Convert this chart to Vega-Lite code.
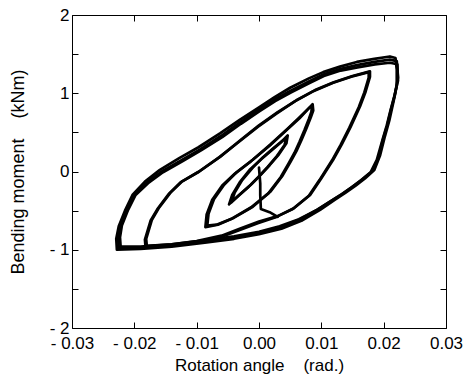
{
  "$schema": "https://vega.github.io/schema/vega-lite/v6.json",
  "width": 374,
  "height": 313,
  "autosize": {"type": "none"},
  "padding": {"left": 72, "top": 15, "right": 23, "bottom": 59},
  "background": "white",
  "config": {
    "view": {"stroke": "black", "strokeWidth": 1},
    "font": "Liberation Sans",
    "axis": {
      "grid": false,
      "domain": false,
      "tickColor": "black",
      "tickSize": -6,
      "tickWidth": 1,
      "labelColor": "black",
      "labelFont": "Liberation Sans",
      "labelFontSize": 17,
      "labelOverlap": false,
      "labelFlush": false,
      "labelBound": false,
      "titleColor": "black",
      "titleFont": "Liberation Sans",
      "titleFontWeight": "normal"
    }
  },
  "data": {"values": [
    {"s":"D1","i":0,"x":-0.0225,"y":-0.98},{"s":"D1","i":1,"x":-0.0226,"y":-0.85},{"s":"D1","i":2,"x":-0.0222,"y":-0.70},{"s":"D1","i":3,"x":-0.0212,"y":-0.50},{"s":"D1","i":4,"x":-0.0200,"y":-0.30},{"s":"D1","i":5,"x":-0.0180,"y":-0.14},{"s":"D1","i":6,"x":-0.0156,"y":0.00},{"s":"D1","i":7,"x":-0.0125,"y":0.14},{"s":"D1","i":8,"x":-0.0095,"y":0.28},{"s":"D1","i":9,"x":-0.0060,"y":0.46},{"s":"D1","i":10,"x":-0.0030,"y":0.63},{"s":"D1","i":11,"x":0.0000,"y":0.79},{"s":"D1","i":12,"x":0.0025,"y":0.92},{"s":"D1","i":13,"x":0.0050,"y":1.03},{"s":"D1","i":14,"x":0.0080,"y":1.15},{"s":"D1","i":15,"x":0.0103,"y":1.24},{"s":"D1","i":16,"x":0.0130,"y":1.31},{"s":"D1","i":17,"x":0.0157,"y":1.36},{"s":"D1","i":18,"x":0.0185,"y":1.40},{"s":"D1","i":19,"x":0.0210,"y":1.43},{"s":"D1","i":20,"x":0.0221,"y":1.41},
    {"s":"D1","i":21,"x":0.0223,"y":1.20},{"s":"D1","i":22,"x":0.0218,"y":0.98},{"s":"D1","i":23,"x":0.0212,"y":0.80},{"s":"D1","i":24,"x":0.0206,"y":0.60},{"s":"D1","i":25,"x":0.0199,"y":0.41},{"s":"D1","i":26,"x":0.0191,"y":0.16},{"s":"D1","i":27,"x":0.0181,"y":0.00},{"s":"D1","i":28,"x":0.0166,"y":-0.10},{"s":"D1","i":29,"x":0.0151,"y":-0.19},{"s":"D1","i":30,"x":0.0135,"y":-0.28},{"s":"D1","i":31,"x":0.0119,"y":-0.36},{"s":"D1","i":32,"x":0.0095,"y":-0.48},{"s":"D1","i":33,"x":0.0066,"y":-0.61},{"s":"D1","i":34,"x":0.0035,"y":-0.71},{"s":"D1","i":35,"x":0.0000,"y":-0.78},{"s":"D1","i":36,"x":-0.0040,"y":-0.84},{"s":"D1","i":37,"x":-0.0087,"y":-0.89},{"s":"D1","i":38,"x":-0.0140,"y":-0.94},{"s":"D1","i":39,"x":-0.0190,"y":-0.97},{"s":"D1","i":40,"x":-0.0225,"y":-0.98},

    {"s":"D2","i":0,"x":-0.0228,"y":-1.00},{"s":"D2","i":1,"x":-0.0229,"y":-0.86},{"s":"D2","i":2,"x":-0.0225,"y":-0.70},{"s":"D2","i":3,"x":-0.0215,"y":-0.50},{"s":"D2","i":4,"x":-0.0203,"y":-0.30},{"s":"D2","i":5,"x":-0.0183,"y":-0.13},{"s":"D2","i":6,"x":-0.0159,"y":0.02},{"s":"D2","i":7,"x":-0.0128,"y":0.17},{"s":"D2","i":8,"x":-0.0097,"y":0.31},{"s":"D2","i":9,"x":-0.0062,"y":0.49},{"s":"D2","i":10,"x":-0.0031,"y":0.66},{"s":"D2","i":11,"x":0.0000,"y":0.82},{"s":"D2","i":12,"x":0.0025,"y":0.95},{"s":"D2","i":13,"x":0.0050,"y":1.07},{"s":"D2","i":14,"x":0.0080,"y":1.19},{"s":"D2","i":15,"x":0.0103,"y":1.27},{"s":"D2","i":16,"x":0.0130,"y":1.34},{"s":"D2","i":17,"x":0.0157,"y":1.40},{"s":"D2","i":18,"x":0.0185,"y":1.44},{"s":"D2","i":19,"x":0.0210,"y":1.47},{"s":"D2","i":20,"x":0.0219,"y":1.45},
    {"s":"D2","i":21,"x":0.0221,"y":1.30},{"s":"D2","i":22,"x":0.0221,"y":1.10},{"s":"D2","i":23,"x":0.0216,"y":0.90},{"s":"D2","i":24,"x":0.0209,"y":0.65},{"s":"D2","i":25,"x":0.0202,"y":0.45},{"s":"D2","i":26,"x":0.0194,"y":0.20},{"s":"D2","i":27,"x":0.0185,"y":0.02},{"s":"D2","i":28,"x":0.0170,"y":-0.09},{"s":"D2","i":29,"x":0.0155,"y":-0.18},{"s":"D2","i":30,"x":0.0139,"y":-0.27},{"s":"D2","i":31,"x":0.0122,"y":-0.36},{"s":"D2","i":32,"x":0.0098,"y":-0.49},{"s":"D2","i":33,"x":0.0068,"y":-0.63},{"s":"D2","i":34,"x":0.0036,"y":-0.73},{"s":"D2","i":35,"x":0.0000,"y":-0.80},{"s":"D2","i":36,"x":-0.0040,"y":-0.86},{"s":"D2","i":37,"x":-0.0087,"y":-0.91},{"s":"D2","i":38,"x":-0.0140,"y":-0.96},{"s":"D2","i":39,"x":-0.0190,"y":-0.99},{"s":"D2","i":40,"x":-0.0228,"y":-1.00},

    {"s":"D3","i":0,"x":-0.0222,"y":-0.96},{"s":"D3","i":1,"x":-0.0223,"y":-0.84},{"s":"D3","i":2,"x":-0.0220,"y":-0.69},{"s":"D3","i":3,"x":-0.0210,"y":-0.49},{"s":"D3","i":4,"x":-0.0198,"y":-0.30},{"s":"D3","i":5,"x":-0.0178,"y":-0.15},{"s":"D3","i":6,"x":-0.0154,"y":-0.01},{"s":"D3","i":7,"x":-0.0123,"y":0.13},{"s":"D3","i":8,"x":-0.0093,"y":0.27},{"s":"D3","i":9,"x":-0.0059,"y":0.44},{"s":"D3","i":10,"x":-0.0029,"y":0.61},{"s":"D3","i":11,"x":0.0001,"y":0.77},{"s":"D3","i":12,"x":0.0026,"y":0.90},{"s":"D3","i":13,"x":0.0051,"y":1.01},{"s":"D3","i":14,"x":0.0081,"y":1.13},{"s":"D3","i":15,"x":0.0104,"y":1.22},{"s":"D3","i":16,"x":0.0131,"y":1.29},{"s":"D3","i":17,"x":0.0158,"y":1.33},{"s":"D3","i":18,"x":0.0186,"y":1.37},{"s":"D3","i":19,"x":0.0210,"y":1.39},{"s":"D3","i":20,"x":0.0222,"y":1.37},
    {"s":"D3","i":21,"x":0.0223,"y":1.16},{"s":"D3","i":22,"x":0.0217,"y":0.96},{"s":"D3","i":23,"x":0.0211,"y":0.78},{"s":"D3","i":24,"x":0.0205,"y":0.59},{"s":"D3","i":25,"x":0.0198,"y":0.40},{"s":"D3","i":26,"x":0.0189,"y":0.15},{"s":"D3","i":27,"x":0.0179,"y":-0.01},{"s":"D3","i":28,"x":0.0164,"y":-0.11},{"s":"D3","i":29,"x":0.0149,"y":-0.20},{"s":"D3","i":30,"x":0.0133,"y":-0.29},{"s":"D3","i":31,"x":0.0117,"y":-0.37},{"s":"D3","i":32,"x":0.0093,"y":-0.49},{"s":"D3","i":33,"x":0.0064,"y":-0.61},{"s":"D3","i":34,"x":0.0033,"y":-0.70},{"s":"D3","i":35,"x":0.0000,"y":-0.77},{"s":"D3","i":36,"x":-0.0040,"y":-0.83},{"s":"D3","i":37,"x":-0.0087,"y":-0.88},{"s":"D3","i":38,"x":-0.0140,"y":-0.93},{"s":"D3","i":39,"x":-0.0190,"y":-0.96},{"s":"D3","i":40,"x":-0.0222,"y":-0.96},

    {"s":"B1","i":0,"x":-0.0180,"y":-0.95},{"s":"B1","i":1,"x":-0.0181,"y":-0.86},{"s":"B1","i":2,"x":-0.0172,"y":-0.62},{"s":"B1","i":3,"x":-0.0161,"y":-0.47},{"s":"B1","i":4,"x":-0.0142,"y":-0.27},{"s":"B1","i":5,"x":-0.0124,"y":-0.13},{"s":"B1","i":6,"x":-0.0096,"y":0.00},{"s":"B1","i":7,"x":-0.0062,"y":0.19},{"s":"B1","i":8,"x":-0.0030,"y":0.40},{"s":"B1","i":9,"x":0.0000,"y":0.59},{"s":"B1","i":10,"x":0.0030,"y":0.76},{"s":"B1","i":11,"x":0.0060,"y":0.91},{"s":"B1","i":12,"x":0.0090,"y":1.04},{"s":"B1","i":13,"x":0.0120,"y":1.14},{"s":"B1","i":14,"x":0.0150,"y":1.22},{"s":"B1","i":15,"x":0.0178,"y":1.28},
    {"s":"B1","i":16,"x":0.0178,"y":1.21},{"s":"B1","i":17,"x":0.0171,"y":1.02},{"s":"B1","i":18,"x":0.0162,"y":0.83},{"s":"B1","i":19,"x":0.0147,"y":0.57},{"s":"B1","i":20,"x":0.0133,"y":0.35},{"s":"B1","i":21,"x":0.0119,"y":0.15},{"s":"B1","i":22,"x":0.0099,"y":-0.10},{"s":"B1","i":23,"x":0.0082,"y":-0.30},{"s":"B1","i":24,"x":0.0056,"y":-0.47},{"s":"B1","i":25,"x":0.0030,"y":-0.57},{"s":"B1","i":26,"x":0.0000,"y":-0.64},{"s":"B1","i":27,"x":-0.0030,"y":-0.73},{"s":"B1","i":28,"x":-0.0060,"y":-0.82},{"s":"B1","i":29,"x":-0.0100,"y":-0.89},{"s":"B1","i":30,"x":-0.0140,"y":-0.93},{"s":"B1","i":31,"x":-0.0180,"y":-0.95},

    {"s":"B2","i":0,"x":-0.0182,"y":-0.97},{"s":"B2","i":1,"x":-0.0183,"y":-0.87},{"s":"B2","i":2,"x":-0.0174,"y":-0.63},{"s":"B2","i":3,"x":-0.0163,"y":-0.48},{"s":"B2","i":4,"x":-0.0144,"y":-0.28},{"s":"B2","i":5,"x":-0.0126,"y":-0.14},{"s":"B2","i":6,"x":-0.0098,"y":-0.01},{"s":"B2","i":7,"x":-0.0064,"y":0.18},{"s":"B2","i":8,"x":-0.0032,"y":0.38},{"s":"B2","i":9,"x":-0.0002,"y":0.57},{"s":"B2","i":10,"x":0.0028,"y":0.74},{"s":"B2","i":11,"x":0.0058,"y":0.90},{"s":"B2","i":12,"x":0.0088,"y":1.03},{"s":"B2","i":13,"x":0.0118,"y":1.13},{"s":"B2","i":14,"x":0.0148,"y":1.21},{"s":"B2","i":15,"x":0.0176,"y":1.27},
    {"s":"B2","i":16,"x":0.0176,"y":1.20},{"s":"B2","i":17,"x":0.0169,"y":1.01},{"s":"B2","i":18,"x":0.0160,"y":0.82},{"s":"B2","i":19,"x":0.0145,"y":0.56},{"s":"B2","i":20,"x":0.0131,"y":0.34},{"s":"B2","i":21,"x":0.0117,"y":0.14},{"s":"B2","i":22,"x":0.0097,"y":-0.11},{"s":"B2","i":23,"x":0.0080,"y":-0.31},{"s":"B2","i":24,"x":0.0054,"y":-0.48},{"s":"B2","i":25,"x":0.0028,"y":-0.58},{"s":"B2","i":26,"x":-0.0002,"y":-0.66},{"s":"B2","i":27,"x":-0.0032,"y":-0.75},{"s":"B2","i":28,"x":-0.0062,"y":-0.84},{"s":"B2","i":29,"x":-0.0102,"y":-0.91},{"s":"B2","i":30,"x":-0.0142,"y":-0.95},{"s":"B2","i":31,"x":-0.0182,"y":-0.97},

    {"s":"C1","i":0,"x":-0.0086,"y":-0.71},{"s":"C1","i":1,"x":-0.0084,"y":-0.55},{"s":"C1","i":2,"x":-0.0075,"y":-0.36},{"s":"C1","i":3,"x":-0.0059,"y":-0.18},{"s":"C1","i":4,"x":-0.0039,"y":-0.03},{"s":"C1","i":5,"x":-0.0013,"y":0.13},{"s":"C1","i":6,"x":0.0017,"y":0.33},{"s":"C1","i":7,"x":0.0043,"y":0.52},{"s":"C1","i":8,"x":0.0065,"y":0.68},{"s":"C1","i":9,"x":0.0079,"y":0.80},{"s":"C1","i":10,"x":0.0086,"y":0.86},
    {"s":"C1","i":11,"x":0.0087,"y":0.78},{"s":"C1","i":12,"x":0.0083,"y":0.69},{"s":"C1","i":13,"x":0.0076,"y":0.55},{"s":"C1","i":14,"x":0.0068,"y":0.40},{"s":"C1","i":15,"x":0.0060,"y":0.26},{"s":"C1","i":16,"x":0.0051,"y":0.13},{"s":"C1","i":17,"x":0.0038,"y":-0.05},{"s":"C1","i":18,"x":0.0018,"y":-0.26},{"s":"C1","i":19,"x":-0.0010,"y":-0.45},{"s":"C1","i":20,"x":-0.0040,"y":-0.59},{"s":"C1","i":21,"x":-0.0066,"y":-0.68},{"s":"C1","i":22,"x":-0.0086,"y":-0.71},

    {"s":"C2","i":0,"x":-0.0083,"y":-0.69},{"s":"C2","i":1,"x":-0.0081,"y":-0.54},{"s":"C2","i":2,"x":-0.0072,"y":-0.35},{"s":"C2","i":3,"x":-0.0056,"y":-0.17},{"s":"C2","i":4,"x":-0.0036,"y":-0.01},{"s":"C2","i":5,"x":-0.0010,"y":0.15},{"s":"C2","i":6,"x":0.0019,"y":0.35},{"s":"C2","i":7,"x":0.0045,"y":0.54},{"s":"C2","i":8,"x":0.0066,"y":0.70},{"s":"C2","i":9,"x":0.0080,"y":0.81},{"s":"C2","i":10,"x":0.0085,"y":0.84},
    {"s":"C2","i":11,"x":0.0084,"y":0.76},{"s":"C2","i":12,"x":0.0080,"y":0.67},{"s":"C2","i":13,"x":0.0073,"y":0.53},{"s":"C2","i":14,"x":0.0065,"y":0.38},{"s":"C2","i":15,"x":0.0057,"y":0.24},{"s":"C2","i":16,"x":0.0048,"y":0.11},{"s":"C2","i":17,"x":0.0035,"y":-0.07},{"s":"C2","i":18,"x":0.0015,"y":-0.28},{"s":"C2","i":19,"x":-0.0013,"y":-0.46},{"s":"C2","i":20,"x":-0.0043,"y":-0.60},{"s":"C2","i":21,"x":-0.0068,"y":-0.68},{"s":"C2","i":22,"x":-0.0083,"y":-0.69},

    {"s":"S1","i":0,"x":-0.0048,"y":-0.42},{"s":"S1","i":1,"x":-0.0043,"y":-0.30},{"s":"S1","i":2,"x":-0.0031,"y":-0.14},{"s":"S1","i":3,"x":-0.0014,"y":0.03},{"s":"S1","i":4,"x":0.0004,"y":0.16},{"s":"S1","i":5,"x":0.0020,"y":0.27},{"s":"S1","i":6,"x":0.0035,"y":0.37},{"s":"S1","i":7,"x":0.0046,"y":0.46},
    {"s":"S1","i":8,"x":0.0044,"y":0.36},{"s":"S1","i":9,"x":0.0032,"y":0.22},{"s":"S1","i":10,"x":0.0017,"y":0.08},{"s":"S1","i":11,"x":0.0002,"y":-0.05},{"s":"S1","i":12,"x":-0.0013,"y":-0.17},{"s":"S1","i":13,"x":-0.0030,"y":-0.29},{"s":"S1","i":14,"x":-0.0048,"y":-0.42},

    {"s":"S2","i":0,"x":-0.0044,"y":-0.39},{"s":"S2","i":1,"x":-0.0039,"y":-0.27},{"s":"S2","i":2,"x":-0.0027,"y":-0.11},{"s":"S2","i":3,"x":-0.0010,"y":0.05},{"s":"S2","i":4,"x":0.0006,"y":0.18},{"s":"S2","i":5,"x":0.0022,"y":0.29},{"s":"S2","i":6,"x":0.0037,"y":0.39},{"s":"S2","i":7,"x":0.0044,"y":0.43},
    {"s":"S2","i":8,"x":0.0041,"y":0.34},{"s":"S2","i":9,"x":0.0029,"y":0.20},{"s":"S2","i":10,"x":0.0014,"y":0.06},{"s":"S2","i":11,"x":-0.0001,"y":-0.07},{"s":"S2","i":12,"x":-0.0016,"y":-0.19},{"s":"S2","i":13,"x":-0.0032,"y":-0.30},{"s":"S2","i":14,"x":-0.0044,"y":-0.39},

    {"s":"I","i":0,"x":0.0000,"y":0.05},{"s":"I","i":1,"x":0.0002,"y":-0.15},{"s":"I","i":2,"x":0.0002,"y":-0.30},{"s":"I","i":3,"x":0.0003,"y":-0.48},{"s":"I","i":4,"x":0.0017,"y":-0.52},{"s":"I","i":5,"x":0.0030,"y":-0.58}
  ]},
  "layer": [
    {
      "mark": {"type": "line", "color": "black", "strokeWidth": 2.7, "strokeJoin": "round", "strokeCap": "round"},
      "encoding": {
        "x": {"field": "x", "type": "quantitative",
          "scale": {"domain": [-0.03, 0.03], "nice": false, "zero": false},
          "axis": {"orient": "bottom", "values": [-0.03, -0.02, -0.01, 0, 0.01, 0.02, 0.03],
            "labelExpr": "datum.value < -0.0001 ? '- ' + format(-datum.value, '.2f') : format(datum.value, '.2f')",
            "labelPadding": 13,
            "title": "Rotation angle\u00a0\u00a0\u00a0\u00a0(rad.)", "titleFontSize": 17, "titleY": 42, "titleBaseline": "alphabetic"}},
        "y": {"field": "y", "type": "quantitative",
          "scale": {"domain": [-2, 2], "nice": false, "zero": false},
          "axis": {"orient": "left", "values": [-2, -1.5, -1, -0.5, 0, 0.5, 1, 1.5, 2],
            "labelExpr": "datum.value % 1 != 0 ? '' : (datum.value < 0 ? '- ' + format(-datum.value, 'd') : format(datum.value, 'd'))",
            "labelPadding": 9,
            "title": "Bending moment\u00a0\u00a0\u00a0\u00a0(kNm)", "titleFontSize": 18, "titleX": -49, "titleBaseline": "alphabetic"}},
        "detail": {"field": "s"},
        "order": {"field": "i", "type": "quantitative"}
      }
    },
    {
      "mark": {"type": "point", "opacity": 0},
      "encoding": {
        "x": {"field": "x", "type": "quantitative",
          "scale": {"domain": [-0.03, 0.03], "nice": false, "zero": false},
          "axis": {"orient": "top", "values": [-0.03, -0.02, -0.01, 0, 0.01, 0.02, 0.03], "labels": false, "title": null}},
        "y": {"field": "y", "type": "quantitative",
          "scale": {"domain": [-2, 2], "nice": false, "zero": false},
          "axis": {"orient": "right", "values": [-2, -1.5, -1, -0.5, 0, 0.5, 1, 1.5, 2], "labels": false, "title": null}}
      }
    }
  ],
  "resolve": {"scale": {"x": "independent", "y": "independent"}, "axis": {"x": "independent", "y": "independent"}}
}
